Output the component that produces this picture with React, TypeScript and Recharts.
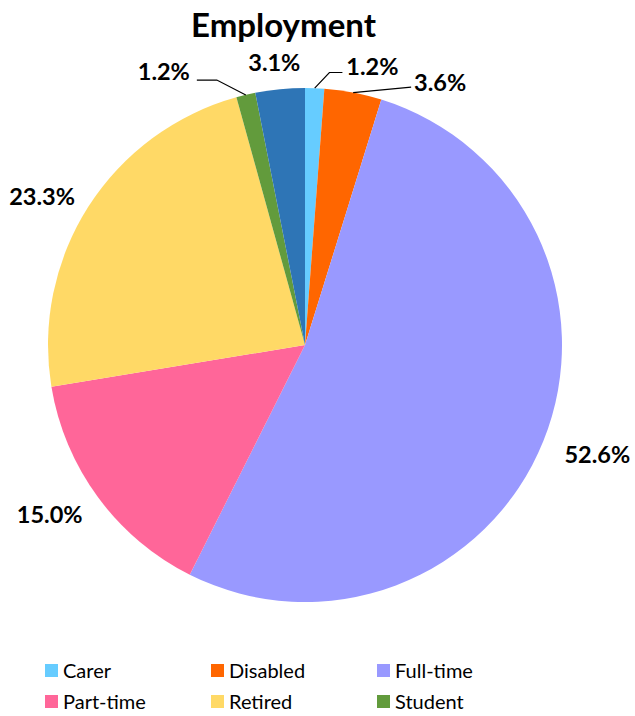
import React from 'react';
import { PieChart, Pie, Cell, Legend } from 'recharts';

const categories = ['Carer', 'Disabled', 'Full-time', 'Part-time', 'Retired', 'Student', 'Unemployed'];
const shares = [1.2, 3.6, 52.6, 15.0, 23.3, 1.2, 3.1];
const colors = ['#66CCFF', '#FF6600', '#9999FF', '#FF6699', '#FFD966', '#629B3C', '#2E75B6'];
const legendNames = ['Carer', 'Disabled', 'Full-time', 'Part-time', 'Retired', 'Student'];

const data = categories.map((name, i) => ({ name, value: shares[i] }));

// label layout: angular shift (deg, math direction) and radial offset beyond outer radius
const labelShift = [-11.4, -16.4, 1.5, -2.9, 3.1, 13.9, 0.6];
const labelOffset = [30.5, 38.6, 55, 49, 45, 51.6, 28];
const leader = ['right', 'straight', 'none', 'none', 'none', 'left', 'none'];

const RAD = Math.PI / 180;
const FONT = 'Lato, "Open Sans", sans-serif';

const renderLabel = (props: any) => {
  const { cx, cy, midAngle, outerRadius, index, value } = props;
  const a = midAngle + labelShift[index];
  const r = outerRadius + labelOffset[index];
  const x = cx + r * Math.cos(-a * RAD);
  const y = cy + r * Math.sin(-a * RAD);
  const sx = cx + outerRadius * Math.cos(-midAngle * RAD);
  const sy = cy + outerRadius * Math.sin(-midAngle * RAD);
  const hw = 27;
  let line = null;
  if (leader[index] === 'right') {
    const ex = x - hw - 3;
    const ey = y + 7;
    line = <polyline points={`${sx},${sy} ${ex - 13},${ey} ${ex},${ey}`} fill="none" stroke="#000" strokeWidth={1.2} />;
  } else if (leader[index] === 'straight') {
    const ex = x - hw - 2;
    const ey = y + 5;
    line = <polyline points={`${sx},${sy} ${ex},${ey}`} fill="none" stroke="#000" strokeWidth={1.2} />;
  } else if (leader[index] === 'left') {
    const ex = x + hw + 6;
    const ey = y + 9.5;
    line = <polyline points={`${sx},${sy} ${ex + 20},${ey} ${ex},${ey}`} fill="none" stroke="#000" strokeWidth={1.2} />;
  }
  return (
    <g key={`lbl-${index}`}>
      {line}
      <text x={x} y={y} textAnchor="middle" dominantBaseline="central" fontFamily={FONT} fontWeight={700} fontSize={23.5} fill="#000">
        {`${Number(value).toFixed(1)}%`}
      </text>
    </g>
  );
};

const LegendContent = () => (
  <div style={{ position: 'relative', width: 635, height: 60, fontFamily: FONT, fontSize: 20, color: '#000' }}>
    {legendNames.map((n, i) => {
      const col = i % 3;
      const row = Math.floor(i / 3);
      const ci = categories.indexOf(n);
      return (
        <div key={n} style={{ position: 'absolute', left: 45 + col * 166, top: row * 31, height: 30, display: 'flex', alignItems: 'center', whiteSpace: 'nowrap' }}>
          <span style={{ display: 'inline-block', width: 13, height: 13, background: colors[ci], marginRight: 5 }} />
          <span style={{ lineHeight: '30px' }}>{n}</span>
        </div>
      );
    })}
  </div>
);

export default function App() {
  return (
    <div style={{ position: 'absolute', left: 0, top: 0, width: 635, height: 716, background: '#fff' }}>
      <div style={{ position: 'absolute', left: 0, width: 567, top: 4, textAlign: 'center', fontFamily: FONT, fontWeight: 700, fontSize: 33, lineHeight: '40px', color: '#000' }}>
        Employment
      </div>
      <PieChart width={635} height={716} margin={{ top: 0, right: 0, bottom: 0, left: 0 }}>
        <Pie
          data={data}
          dataKey="value"
          nameKey="name"
          cx={305}
          cy={345}
          outerRadius={257}
          startAngle={90}
          endAngle={-270}
          stroke="none"
          label={renderLabel}
          labelLine={false}
          isAnimationActive={false}
        >
          {data.map((d, i) => (
            <Cell key={d.name} fill={colors[i]} />
          ))}
        </Pie>
        <Legend content={<LegendContent />} wrapperStyle={{ position: 'absolute', left: 0, top: 655, width: 635 }} />
      </PieChart>
    </div>
  );
}
